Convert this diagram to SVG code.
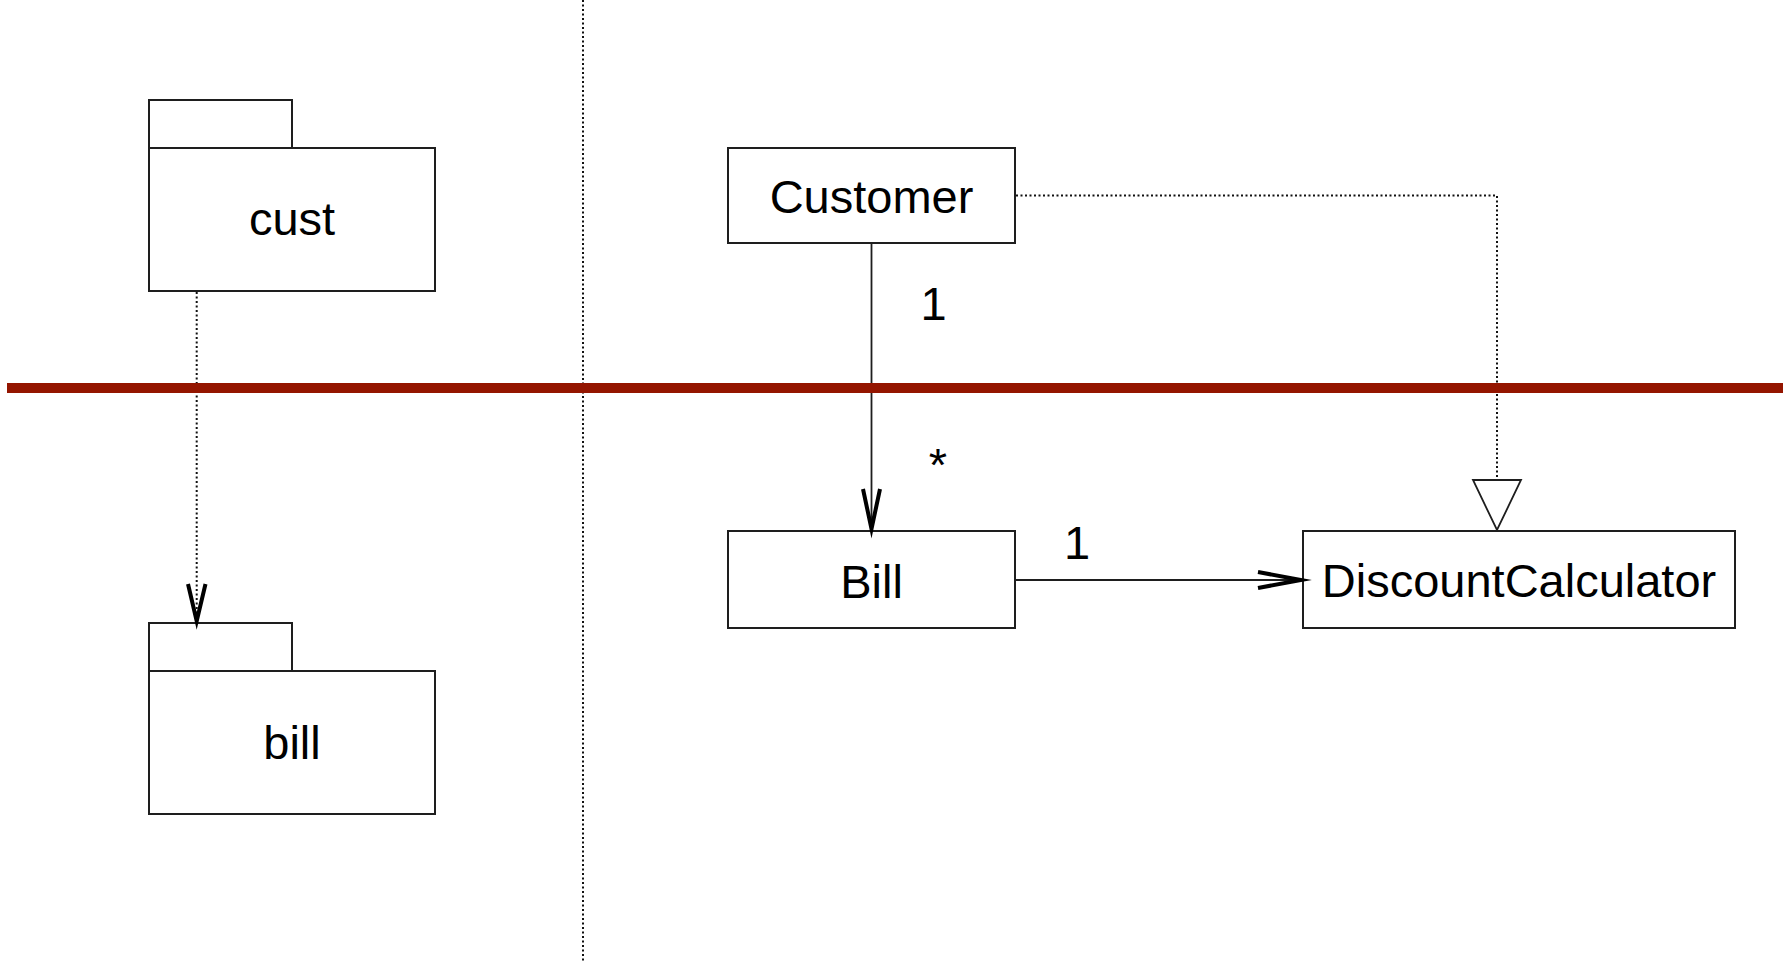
<svg xmlns="http://www.w3.org/2000/svg" width="1783" height="962" viewBox="0 0 1783 962">
  <style>
    .box { fill: #ffffff; stroke: #1e1e1e; stroke-width: 2; }
    .lbl { font-family: "Liberation Sans", Arial, sans-serif; font-size: 47px; fill: #000000; text-anchor: middle; }
    .solid { fill: none; stroke: #1e1e1e; stroke-width: 1.8; }
    .dotted { fill: none; stroke: #111111; stroke-width: 2; stroke-dasharray: 2 2.5; }
    .open-v { fill: none; stroke: #000000; stroke-width: 4; stroke-linejoin: miter; stroke-miterlimit: 10; }
    .tri { fill: #ffffff; stroke: #1e1e1e; stroke-width: 1.8; }
  </style>

  <rect width="1783" height="962" fill="#ffffff"/>

  <!-- divider between package view and class view -->
  <line x1="583" y1="0" x2="583" y2="962" class="dotted"/>

  <!-- packages -->
  <g id="pkg-cust">
    <rect class="box" x="149" y="100" width="143" height="48"/>
    <rect class="box" x="149" y="148" width="286" height="143"/>
    <text class="lbl" x="292" y="235">cust</text>
  </g>
  <g id="pkg-bill">
    <rect class="box" x="149" y="623" width="143" height="48"/>
    <rect class="box" x="149" y="671" width="286" height="143"/>
    <text class="lbl" x="292" y="759">bill</text>
  </g>

  <!-- classes -->
  <g id="cls-customer">
    <rect class="box" x="728" y="148" width="287" height="95"/>
    <text class="lbl" x="871.5" y="213">Customer</text>
  </g>
  <g id="cls-bill">
    <rect class="box" x="728" y="531" width="287" height="97"/>
    <text class="lbl" x="871.5" y="598">Bill</text>
  </g>
  <g id="cls-discount">
    <rect class="box" x="1303" y="531" width="432" height="97"/>
    <text class="lbl" x="1519" y="597">DiscountCalculator</text>
  </g>

  <!-- connectors -->
  <g id="connectors">
    <!-- package dependency cust -> bill -->
    <line class="dotted" x1="196.7" y1="292" x2="196.7" y2="615"/>
    <path class="open-v" d="M188 584 L196.7 621 L205.5 584"/>

    <!-- association Customer -> Bill -->
    <line class="solid" x1="871.5" y1="243" x2="871.5" y2="528"/>
    <path class="open-v" d="M863 489 L871.5 529 L880 489"/>
    <text class="lbl" x="933.5" y="320">1</text>
    <text class="lbl" x="938" y="481" font-size="32" fill="#333333">*</text>

    <!-- association Bill -> DiscountCalculator -->
    <line class="solid" x1="1015" y1="580" x2="1300" y2="580"/>
    <path class="open-v" d="M1258 572 L1301 580 L1258 588"/>
    <text class="lbl" x="1077" y="559">1</text>

    <!-- realization Customer -> DiscountCalculator -->
    <path class="dotted" d="M1016 195.5 H1497 V480"/>
    <polygon class="tri" points="1473,480 1521,480 1497,530"/>
  </g>

  <!-- red boundary line -->
  <line x1="7" y1="388" x2="1783" y2="388" stroke="#941500" stroke-width="10"/>
</svg>
